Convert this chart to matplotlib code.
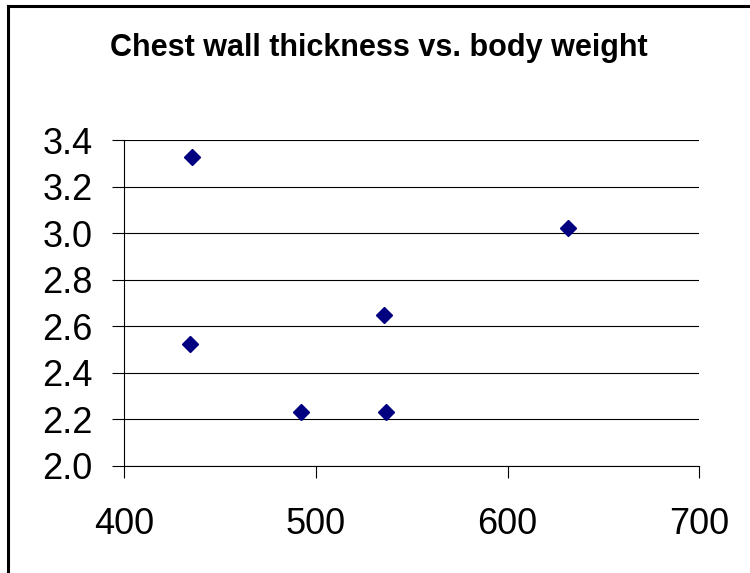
import matplotlib
matplotlib.use("Agg")
import matplotlib.pyplot as plt
from matplotlib.lines import Line2D

# body weight vs chest wall thickness
body_weight = [435.6, 434.4, 492.5, 535.4, 536.8, 631.7]
wall_thickness = [3.327, 2.524, 2.231, 2.650, 2.231, 3.024]

x_ticks = [400, 500, 600, 700]
y_ticks = [2.0, 2.2, 2.4, 2.6, 2.8, 3.0, 3.2, 3.4]
title = "Chest wall thickness vs. body weight"

plt.rcParams['font.family'] = ['Liberation Sans', 'DejaVu Sans']

W, H = 750, 573
fig = plt.figure(figsize=(W / 100, H / 100), dpi=100)
ax = fig.add_axes([124 / W, 1 - 465.7 / H, (699.3 - 124) / W, (465.7 - 140.3) / H])

ax.plot(body_weight, wall_thickness, linestyle='none', marker='D',
        markersize=8.5, color='#000080', zorder=3, clip_on=False)

ax.set_xlim(400, 700)
ax.set_ylim(2.0, 3.4)
ax.set_xticks(x_ticks)
ax.set_yticks(y_ticks)
ax.set_yticklabels([f"{v:.1f}" for v in y_ticks])
ax.set_xticklabels([str(v) for v in x_ticks])

ax.grid(axis='y', color='black', linewidth=0.8)
ax.set_axisbelow(True)
for side in ['top', 'right']:
    ax.spines[side].set_visible(False)
for side in ['left', 'bottom']:
    ax.spines[side].set_linewidth(0.8)
ax.tick_params(axis='both', direction='out', length=8.6, width=0.8, labelsize=26)
ax.tick_params(axis='y', pad=14)
ax.tick_params(axis='x', pad=21)

fig.text(379 / W, 1 - 56 / H, title, ha='center', va='baseline',
         fontsize=22, fontweight='bold')

# chart border (only left and top edges are inside the picture)
fig.add_artist(Line2D([7.5 / W, 7.5 / W], [0, 1 - 5.5 / H], color='black',
                      linewidth=2.2, transform=fig.transFigure))
fig.add_artist(Line2D([7.5 / W, 1], [1 - 5.5 / H, 1 - 5.5 / H], color='black',
                      linewidth=2.2, transform=fig.transFigure))

fig.savefig("out.png", dpi=100)
